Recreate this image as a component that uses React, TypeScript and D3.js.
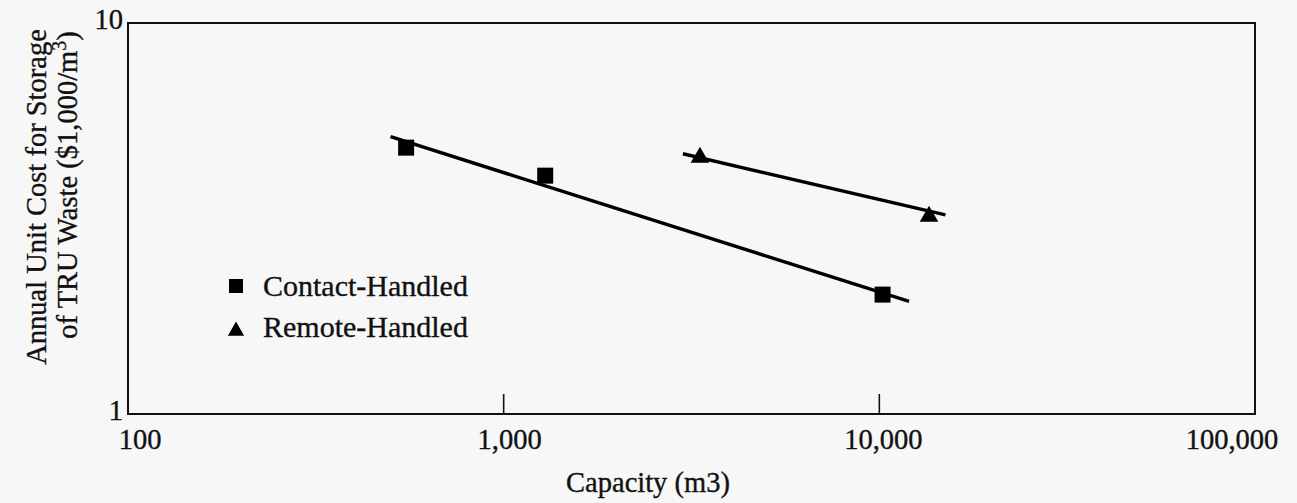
import React from "react";
import * as d3 from "d3";

// ---- data ----
const capacityCH = [550, 1290, 10200];
const costCH = [4.8, 4.07, 2.02];
const capacityRH = [3330, 13560];
const costRH = [4.53, 3.2];

// fitted trend lines (end points)
const fitCapacityCH = [500, 12000];
const fitCostCH = [5.12, 1.94];
const fitCapacityRH = [3000, 15000];
const fitCostRH = [4.63, 3.23];

const xTickValues = [100, 1000, 10000, 100000];
const xTickLabels = ["100", "1,000", "10,000", "100,000"];
const yTickValues = [1, 10];
const yTickLabels = ["1", "10"];
const legendLabels = ["Contact-Handled", "Remote-Handled"];

// ---- layout / style ----
const W = 1297;
const H = 503;
const plot = { left: 128, right: 1255, top: 23, bottom: 414 };
const xLabelNudge = [12, 6, 4, -23];
const FONT = "'Liberation Serif', 'Times New Roman', serif";
const FS = 28.5;
const LEG_FS = 30;
const INK = "#111";
const TEXT_STROKE = 0.35;

export default function App() {
  const x = d3.scaleLog().domain([100, 100000]).range([plot.left, plot.right]);
  const y = d3.scaleLog().domain([1, 10]).range([plot.bottom, plot.top]);

  const line = d3
    .line<[number, number]>()
    .x((d) => x(d[0]))
    .y((d) => y(d[1]));

  const chPts = capacityCH.map((c, i) => [c, costCH[i]] as [number, number]);
  const rhPts = capacityRH.map((c, i) => [c, costRH[i]] as [number, number]);
  const chFit = fitCapacityCH.map((c, i) => [c, fitCostCH[i]] as [number, number]);
  const rhFit = fitCapacityRH.map((c, i) => [c, fitCostRH[i]] as [number, number]);

  const square = d3.symbol().type(d3.symbolSquare).size(256)() as string;
  const triangle = d3.symbol().type(d3.symbolTriangle).size(150)() as string;
  const squareLeg = d3.symbol().type(d3.symbolSquare).size(196)() as string;
  const triangleLeg = d3.symbol().type(d3.symbolTriangle).size(115)() as string;

  const textProps = { fill: INK, stroke: INK, strokeWidth: TEXT_STROKE };

  return (
    <svg
      width={W}
      height={H}
      style={{ position: "absolute", left: 0, top: 0, display: "block" }}
      fontFamily={FONT}
    >
      <rect x={0} y={0} width={W} height={H} fill="#f7f7f7" />

      {/* frame */}
      <rect
        x={plot.left}
        y={plot.top}
        width={plot.right - plot.left}
        height={plot.bottom - plot.top}
        fill="none"
        stroke={INK}
        strokeWidth={2}
      />

      {/* inner x ticks */}
      {xTickValues
        .filter((v) => v > 100 && v < 100000)
        .map((v) => (
          <line
            key={"t" + v}
            x1={x(v)}
            x2={x(v)}
            y1={plot.bottom}
            y2={plot.bottom - 20}
            stroke={INK}
            strokeWidth={1.6}
          />
        ))}

      {/* x tick labels */}
      {xTickValues.map((v, i) => (
        <text
          key={"xl" + v}
          x={x(v) + xLabelNudge[i]}
          y={449}
          textAnchor="middle"
          fontSize={FS}
          {...textProps}
        >
          {xTickLabels[i]}
        </text>
      ))}

      {/* y tick labels */}
      {yTickValues.map((v, i) => (
        <text
          key={"yl" + v}
          x={plot.left - 5}
          y={y(v) + 6}
          textAnchor="end"
          fontSize={FS}
          {...textProps}
        >
          {yTickLabels[i]}
        </text>
      ))}

      {/* axis titles */}
      <text x={648} y={492} textAnchor="middle" fontSize={FS} {...textProps}>
        Capacity (m3)
      </text>
      <text
        transform={`translate(46,197) rotate(-90)`}
        textAnchor="middle"
        fontSize={FS}
        {...textProps}
      >
        Annual Unit Cost for Storage
      </text>
      <text
        transform={`translate(77,185) rotate(-90)`}
        textAnchor="middle"
        fontSize={FS}
        {...textProps}
      >
        of TRU Waste ($1,000/m
        <tspan baselineShift="super" fontSize={FS * 0.7}>
          3
        </tspan>
        )
      </text>

      {/* fit lines */}
      <path d={line(chFit) || ""} fill="none" stroke="#000" strokeWidth={3.4} />
      <path d={line(rhFit) || ""} fill="none" stroke="#000" strokeWidth={3.4} />

      {/* markers */}
      {chPts.map((d, i) => (
        <path key={"ch" + i} d={square} transform={`translate(${x(d[0])},${y(d[1])})`} fill="#000" />
      ))}
      {rhPts.map((d, i) => (
        <path key={"rh" + i} d={triangle} transform={`translate(${x(d[0])},${y(d[1])})`} fill="#000" />
      ))}

      {/* legend */}
      <path d={squareLeg} transform="translate(236,286)" fill="#000" />
      <text x={263} y={296} fontSize={LEG_FS} {...textProps}>
        {legendLabels[0]}
      </text>
      <path d={triangleLeg} transform="translate(236,331)" fill="#000" />
      <text x={263} y={337} fontSize={LEG_FS} {...textProps}>
        {legendLabels[1]}
      </text>
    </svg>
  );
}
